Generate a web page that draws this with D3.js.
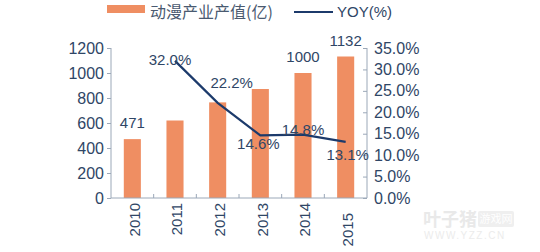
<!DOCTYPE html>
<html>
<head>
<meta charset="utf-8">
<script src="https://cdn.jsdelivr.net/npm/d3@7"></script>
<style>
  body { margin: 0; background: #fff; }
  svg text { font-family: "Liberation Sans", Arial, sans-serif; fill: #2f4666; }
</style>
</head>
<body>
<svg width="540" height="252"></svg>
<script>
var years = ["2010", "2011", "2012", "2013", "2014", "2015"];
var output = [471, 620, 765, 872, 1000, 1132];
var yoy = [null, 32.0, 22.2, 14.6, 14.8, 13.1];
var barLabels = ["471", null, null, null, "1000", "1132"];
var yoyLabels = [null, "32.0%", "22.2%", "14.6%", "14.8%", "13.1%"];
var leftTicks = [0, 200, 400, 600, 800, 1000, 1200];
var rightTicks = [0, 5, 10, 15, 20, 25, 30, 35];

// label nudges for the yoy numbers (px)
var yoyNudge = [null, [-5, -1], [14, -20], [-2, 8], [0, -5], [2, 13]];

var svg = d3.select("svg"),
    margin = {top: 48, right: 173, bottom: 54, left: 111},
    width = +svg.attr("width") - margin.left - margin.right,
    height = +svg.attr("height") - margin.top - margin.bottom;

var barColor = "#ef8e62",
    lineColor = "#1c3a6b",
    axisColor = "#9ba8b8";

var x = d3.scaleBand().domain(years).range([0, width]).paddingInner(0.6).paddingOuter(0.3),
    y = d3.scaleLinear().domain([0, 1200]).range([height, 0]),
    y2 = d3.scaleLinear().domain([0, 35]).range([height, 0]);

var g = svg.append("g")
    .attr("transform", "translate(" + margin.left + "," + margin.top + ")");

// bars
g.selectAll(".bar")
  .data(output)
  .enter().append("rect")
    .attr("class", "bar")
    .attr("x", function(d, i) { return x(years[i]); })
    .attr("y", function(d) { return y(d); })
    .attr("width", x.bandwidth())
    .attr("height", function(d) { return height - y(d); })
    .attr("fill", barColor);

// left axis
var yAxis = d3.axisLeft(y).tickValues(leftTicks).tickSize(4).tickPadding(3).tickFormat(d3.format("d"));
var ga = g.append("g").call(yAxis);
ga.select(".domain").attr("stroke", axisColor).attr("d", "M0," + height + "V0");
ga.selectAll(".tick line").attr("stroke", axisColor);
ga.selectAll("text").style("font-size", "16px").style("fill", "#2f4666");

// right axis (ticks point inward)
var yAxis2 = d3.axisRight(y2).tickValues(rightTicks).tickSize(-4).tickPadding(7)
    .tickFormat(function(d) { return d.toFixed(1) + "%"; });
var gb = g.append("g").attr("transform", "translate(" + width + ",0)").call(yAxis2);
gb.select(".domain").attr("stroke", axisColor).attr("d", "M0," + height + "V0");
gb.selectAll(".tick line").attr("stroke", axisColor);
gb.selectAll("text").style("font-size", "16px").style("fill", "#2f4666");

// bottom axis
var gx = g.append("g").attr("transform", "translate(0," + height + ")");
gx.append("line").attr("x1", 0).attr("x2", width).attr("stroke", axisColor);
gx.selectAll(".sep")
  .data(years.slice(1))
  .enter().append("line")
    .attr("x1", function(d) { return x(d) - (x.step() - x.bandwidth()) / 2; })
    .attr("x2", function(d) { return x(d) - (x.step() - x.bandwidth()) / 2; })
    .attr("y1", 0).attr("y2", -4)
    .attr("stroke", axisColor);
gx.selectAll(".yr")
  .data(years)
  .enter().append("text")
    .attr("transform", function(d, i) {
      var cx = x(d) + x.bandwidth() / 2 + 2;
      var top = i === 5 ? 15 : 5;
      return "translate(" + cx + "," + top + ") rotate(-90)";
    })
    .attr("text-anchor", "end")
    .attr("dy", "0.35em")
    .style("font-size", "15px")
    .text(function(d) { return d; });

// bar value labels
var barPts = [];
output.forEach(function(v, i) { if (barLabels[i]) barPts.push({year: years[i], v: v, label: barLabels[i]}); });
g.selectAll(".blab")
  .data(barPts)
  .enter().append("text")
    .attr("x", function(d) { return x(d.year) + x.bandwidth() / 2; })
    .attr("y", function(d) { return y(d.v) - 16; })
    .attr("dy", "0.35em")
    .attr("text-anchor", "middle")
    .style("font-size", "15px")
    .text(function(d) { return d.label; });

// yoy line
var pts = [];
yoy.forEach(function(v, i) { if (v !== null) pts.push({year: years[i], v: v, i: i}); });
var line = d3.line()
    .x(function(d) { return x(d.year) + x.bandwidth() / 2; })
    .y(function(d) { return y2(d.v); });
g.append("path")
    .datum(pts)
    .attr("d", line)
    .attr("fill", "none")
    .attr("stroke", lineColor)
    .attr("stroke-width", 2.2);

g.selectAll(".ylab")
  .data(pts)
  .enter().append("text")
    .attr("x", function(d) { return x(d.year) + x.bandwidth() / 2 + yoyNudge[d.i][0]; })
    .attr("y", function(d) { return y2(d.v) + yoyNudge[d.i][1]; })
    .attr("dy", "0.35em")
    .attr("text-anchor", "middle")
    .style("font-size", "15px")
    .text(function(d) { return yoyLabels[d.i]; });

// legend
var lg = svg.append("g");
lg.append("rect").attr("x", 107).attr("y", 5).attr("width", 38).attr("height", 8).attr("fill", barColor);
lg.append("text").attr("x", 150).attr("y", 12).attr("dy", "0.35em")
    .style("font-size", "16px").style("font-family", "'Noto Sans CJK SC', sans-serif")
    .style("fill", "#4a5a70")
    .text("动漫产业产值(亿)");
lg.append("line").attr("x1", 294).attr("x2", 333).attr("y1", 12).attr("y2", 12)
    .attr("stroke", lineColor).attr("stroke-width", 2.2);
lg.append("text").attr("x", 337).attr("y", 12).attr("dy", "0.35em")
    .style("font-size", "15px")
    .text("YOY(%)");

// watermark
var wm = svg.append("g").style("opacity", 0.55);
wm.append("text").attr("x", 423).attr("y", 226)
    .style("font-size", "18px").style("font-weight", "bold")
    .style("font-family", "'Noto Sans CJK SC', sans-serif")
    .style("fill", "#d8d8d8").text("叶子猪");
wm.append("rect").attr("x", 478).attr("y", 211).attr("width", 36).attr("height", 16).attr("rx", 2)
    .attr("fill", "#e2e2e2");
wm.append("text").attr("x", 496).attr("y", 223).attr("text-anchor", "middle")
    .style("font-size", "11px").style("font-family", "'Noto Sans CJK SC', sans-serif")
    .style("fill", "#ffffff").text("游戏网");
wm.append("text").attr("x", 424).attr("y", 239)
    .style("font-size", "10px").style("letter-spacing", "1.5px")
    .style("fill", "#dcdcdc").text("WWW.YZZ.CN");
</script>
</body>
</html>
